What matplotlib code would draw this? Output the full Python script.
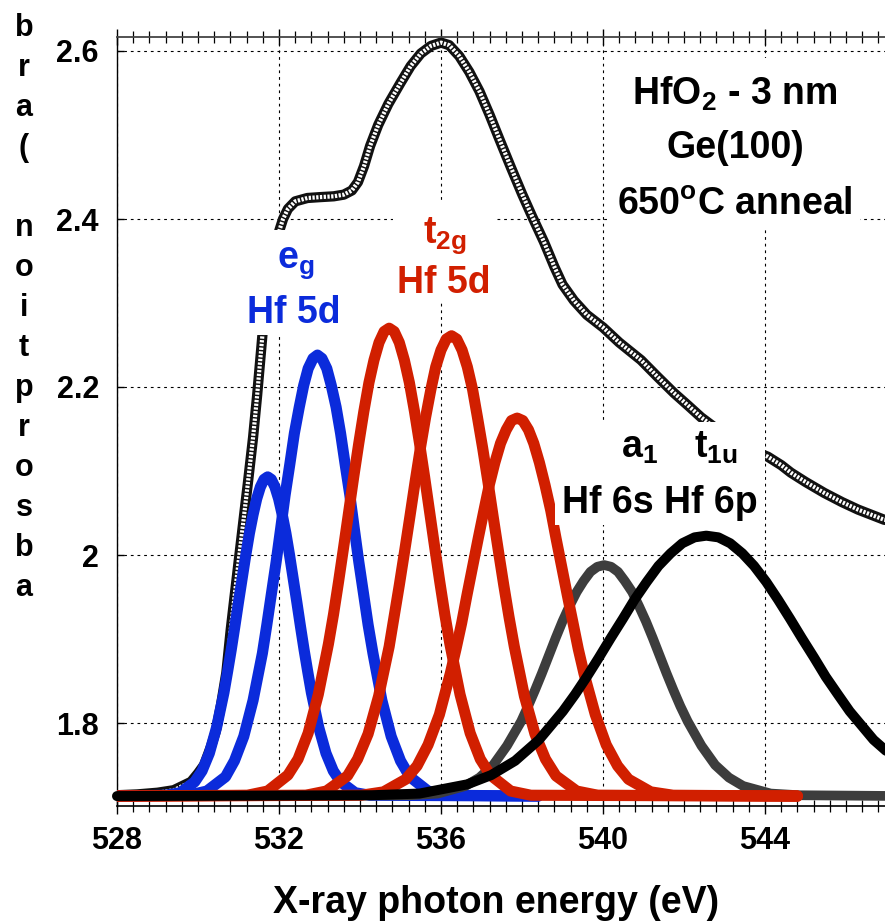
import matplotlib
matplotlib.use("Agg")
import matplotlib.pyplot as plt
from matplotlib.patches import Rectangle
from matplotlib.ticker import MultipleLocator

plt.rcParams['font.family'] = ['Liberation Sans', 'DejaVu Sans']
plt.rcParams['font.weight'] = 'bold'
plt.rcParams['mathtext.fontset'] = 'custom'
plt.rcParams['mathtext.rm'] = 'Liberation Sans:bold'
plt.rcParams['mathtext.it'] = 'Liberation Sans:bold'
plt.rcParams['mathtext.bf'] = 'Liberation Sans:bold'

# measured spectrum (open circles)
data_e = [528.0, 528.5, 529.0, 529.4, 529.83, 530.0, 530.15, 530.32, 530.44, 530.57, 530.7, 530.81,
          531.01, 531.23, 531.36, 531.46, 531.56, 531.65, 531.8, 531.9, 532.02, 532.1, 532.22, 532.4,
          532.7, 533.0, 533.35, 533.6, 533.8, 533.95, 534.1, 534.25, 534.45, 534.7, 535.0, 535.25,
          535.5, 535.75, 536.0, 536.2, 536.45, 536.7, 536.95, 537.2, 537.45, 537.73, 538.0, 538.25,
          538.54, 538.8, 539.0, 539.28, 539.6, 540.0, 540.4, 540.94, 541.35, 541.75, 542.1, 542.42,
          543.0, 543.5, 544.07, 544.4, 544.64, 545.0, 545.46, 545.9, 546.3, 546.94, 547.2]
data_v = [1.714, 1.715, 1.717, 1.720, 1.730, 1.740, 1.750, 1.772, 1.790, 1.822, 1.860, 1.912,
          1.995, 2.085, 2.140, 2.190, 2.245, 2.295, 2.345, 2.368, 2.388, 2.400, 2.412, 2.421,
          2.425, 2.426, 2.427, 2.429, 2.434, 2.444, 2.463, 2.487, 2.512, 2.537, 2.562, 2.582,
          2.597, 2.606, 2.610, 2.607, 2.594, 2.575, 2.552, 2.524, 2.494, 2.461, 2.430, 2.403,
          2.373, 2.343, 2.322, 2.303, 2.286, 2.271, 2.253, 2.232, 2.212, 2.193, 2.178, 2.164,
          2.143, 2.128, 2.117, 2.107, 2.098, 2.087, 2.074, 2.063, 2.054, 2.042, 2.040]

# fitted components (e_g Hf 5d, blue)
blue1_e = [528.0, 529.20, 529.56, 529.92, 530.10, 530.28, 530.46, 530.64, 530.73, 530.82, 530.91, 531.00, 531.09,
           531.18, 531.27, 531.36, 531.45, 531.54, 531.63, 531.72, 531.81, 531.90, 531.99, 532.08, 532.17,
           532.26, 532.35, 532.44, 532.53, 532.62, 532.71, 532.80, 532.98, 533.16, 533.34, 533.52, 533.88,
           534.24, 538.4]
blue1_v = [1.713, 1.714, 1.717, 1.730, 1.743, 1.764, 1.795, 1.836, 1.861, 1.887, 1.915, 1.944, 1.972,
           2.000, 2.026, 2.048, 2.067, 2.081, 2.090, 2.093, 2.090, 2.081, 2.067, 2.048, 2.026,
           2.000, 1.972, 1.944, 1.915, 1.887, 1.861, 1.836, 1.795, 1.764, 1.743, 1.730, 1.717,
           1.714, 1.713]

blue2_e = [528.0, 529.77, 530.22, 530.68, 530.90, 531.13, 531.36, 531.59, 531.70, 531.81, 531.93, 532.04, 532.15,
           532.27, 532.38, 532.50, 532.61, 532.72, 532.84, 532.95, 533.06, 533.18, 533.29, 533.41, 533.52,
           533.63, 533.75, 533.86, 533.97, 534.09, 534.20, 534.32, 534.54, 534.77, 535.00, 535.23, 535.68,
           536.14, 538.4]
blue2_v = [1.713, 1.714, 1.719, 1.736, 1.755, 1.784, 1.827, 1.883, 1.917, 1.953, 1.992, 2.031, 2.071,
           2.109, 2.145, 2.176, 2.202, 2.222, 2.234, 2.238, 2.234, 2.222, 2.202, 2.176, 2.145,
           2.109, 2.071, 2.031, 1.992, 1.953, 1.917, 1.883, 1.827, 1.784, 1.755, 1.736, 1.719,
           1.714, 1.713]

# t_2g Hf 5d, red
red1_e = [528.0, 531.22, 531.72, 532.22, 532.47, 532.72, 532.97, 533.22, 533.345, 533.47, 533.595, 533.72, 533.845,
          533.97, 534.095, 534.22, 534.345, 534.47, 534.595, 534.72, 534.845, 534.97, 535.095, 535.22, 535.345,
          535.47, 535.595, 535.72, 535.845, 535.97, 536.095, 536.22, 536.47, 536.72, 536.97, 537.22, 537.72,
          538.22, 544.8]
red1_v = [1.713, 1.714, 1.719, 1.738, 1.757, 1.788, 1.834, 1.894, 1.929, 1.968, 2.009, 2.051, 2.093,
          2.133, 2.171, 2.205, 2.232, 2.253, 2.266, 2.270, 2.266, 2.253, 2.232, 2.205, 2.171,
          2.133, 2.093, 2.051, 2.009, 1.968, 1.929, 1.894, 1.834, 1.788, 1.757, 1.738, 1.719,
          1.714, 1.713]

red2_e = [528.0, 532.66, 533.17, 533.69, 533.94, 534.20, 534.46, 534.72, 534.84, 534.97, 535.10, 535.23, 535.36,
          535.49, 535.62, 535.75, 535.87, 536.00, 536.13, 536.26, 536.39, 536.52, 536.65, 536.78, 536.90,
          537.03, 537.16, 537.29, 537.42, 537.55, 537.68, 537.81, 538.06, 538.32, 538.58, 538.84, 539.35,
          539.87, 544.8]
red2_v = [1.713, 1.714, 1.719, 1.737, 1.757, 1.787, 1.832, 1.891, 1.926, 1.964, 2.004, 2.045, 2.087,
          2.127, 2.164, 2.197, 2.224, 2.244, 2.257, 2.261, 2.257, 2.244, 2.224, 2.197, 2.164,
          2.127, 2.087, 2.045, 2.004, 1.964, 1.926, 1.891, 1.832, 1.787, 1.757, 1.737, 1.719,
          1.714, 1.713]

red3_e = [528.0, 534.03, 534.58, 535.13, 535.41, 535.68, 535.96, 536.23, 536.37, 536.51, 536.64, 536.78, 536.92,
          537.06, 537.19, 537.33, 537.47, 537.61, 537.74, 537.88, 538.02, 538.16, 538.29, 538.43, 538.57,
          538.71, 538.84, 538.98, 539.12, 539.26, 539.39, 539.53, 539.81, 540.08, 540.36, 540.63, 541.18,
          541.73, 544.8]
red3_v = [1.713, 1.714, 1.718, 1.733, 1.749, 1.774, 1.810, 1.859, 1.888, 1.919, 1.952, 1.986, 2.020,
          2.053, 2.083, 2.110, 2.133, 2.149, 2.160, 2.163, 2.160, 2.149, 2.133, 2.110, 2.083,
          2.053, 2.020, 1.986, 1.952, 1.919, 1.888, 1.859, 1.810, 1.774, 1.749, 1.733, 1.718,
          1.714, 1.713]

# a_1 Hf 6s, dark grey
a1_e = [528.0, 535.24, 535.92, 536.60, 536.95, 537.29, 537.63, 537.98, 538.15, 538.32, 538.49, 538.66, 538.83,
        539.00, 539.17, 539.35, 539.52, 539.69, 539.86, 540.03, 540.20, 540.37, 540.54, 540.72, 540.89,
        541.06, 541.23, 541.40, 541.57, 541.74, 541.91, 542.09, 542.43, 542.77, 543.11, 543.46, 544.14,
        544.83, 547.5]
a1_v = [1.713, 1.714, 1.716, 1.725, 1.735, 1.750, 1.773, 1.802, 1.820, 1.839, 1.859, 1.880, 1.901,
        1.921, 1.939, 1.956, 1.969, 1.980, 1.986, 1.988, 1.986, 1.980, 1.969, 1.956, 1.939,
        1.921, 1.901, 1.880, 1.859, 1.839, 1.820, 1.802, 1.773, 1.750, 1.735, 1.725, 1.716,
        1.714, 1.713]

# t_1u Hf 6p, black
t1u_e = [528.0, 534.29, 535.47, 536.65, 537.24, 537.83, 538.42, 539.01, 539.31, 539.60, 539.90, 540.19, 540.49,
         540.78, 541.08, 541.37, 541.67, 541.96, 542.26, 542.55, 542.85, 543.14, 543.44, 543.73, 544.03,
         544.32, 544.62, 544.91, 545.21, 545.50, 545.80, 546.09, 546.68, 547.27, 547.86]
t1u_v = [1.713, 1.714, 1.716, 1.727, 1.738, 1.755, 1.780, 1.814, 1.834, 1.855, 1.878, 1.901, 1.924,
         1.947, 1.968, 1.987, 2.002, 2.014, 2.021, 2.023, 2.021, 2.014, 2.002, 1.987, 1.968,
         1.947, 1.924, 1.901, 1.878, 1.855, 1.834, 1.814, 1.780, 1.755, 1.738]

x_ticks = [528, 532, 536, 540, 544]
x_tick_labels = ['528', '532', '536', '540', '544']
y_ticks = [1.8, 2.0, 2.2, 2.4, 2.6]
y_tick_labels = ['1.8', '2', '2.2', '2.4', '2.6']
ylabel_chars = ['b', 'r', 'a', '(', 'n', 'o', 'i', 't', 'p', 'r', 'o', 's', 'b', 'a']
ylabel_ypix = [28, 68, 108, 148, 228, 268, 308, 348, 388, 428, 468, 508, 548, 588]

blue = '#0b2bdb'
red = '#d11f00'
gray = '#3d3d3d'

W, H = 885, 922
fig = plt.figure(figsize=(W / 100, H / 100), dpi=100)
ax = fig.add_axes([117 / W, 116 / H, 768 / W, 769 / H])

# spectrum drawn as a dark band with light speckles to mimic dense open circles
ax.plot(data_e, data_v, color='#111111', lw=7.4, solid_capstyle='round', solid_joinstyle='round', zorder=2)
ax.plot(data_e, data_v, color='white', lw=3.0, linestyle=(0, (0.55, 0.35)),
        solid_joinstyle='round', zorder=2.1)

lkw = dict(solid_capstyle='round', solid_joinstyle='round')
ax.plot(blue1_e, blue1_v, color=blue, lw=8, zorder=3, **lkw)
ax.plot(blue2_e, blue2_v, color=blue, lw=8, zorder=3, **lkw)
ax.plot(a1_e, a1_v, color=gray, lw=7, zorder=3.5, **lkw)
ax.plot(red1_e, red1_v, color=red, lw=8, zorder=4, **lkw)
ax.plot(red2_e, red2_v, color=red, lw=8, zorder=4, **lkw)
ax.plot(red3_e, red3_v, color=red, lw=8, zorder=4, **lkw)
ax.plot(t1u_e, t1u_v, color='black', lw=7.2, zorder=5, clip_on=False, **lkw)

ax.set_xlim(528, 528 + 768 / 40.5)
ax.set_ylim(1.8 - 83 / 840, 1.8 + 686 / 840)

ax.set_xticks(x_ticks)
ax.set_xticklabels(x_tick_labels)
ax.xaxis.set_minor_locator(MultipleLocator(0.4))
ax.set_yticks(y_ticks)
ax.set_yticklabels(y_tick_labels)
ax.tick_params(axis='x', which='both', top=True, bottom=True, direction='inout')
ax.tick_params(axis='x', which='major', length=11, width=1, labelsize=22, pad=9)
ax.tick_params(axis='x', which='minor', length=9, width=0.9)
ax.tick_params(axis='y', which='major', left=True, right=False, direction='in',
               length=5, width=1, labelsize=22, pad=13)

ax.grid(True, which='major', color='black', linestyle=(0, (2.5, 3.5)), lw=0.8)
ax.set_axisbelow(True)
ax.spines['right'].set_visible(False)
ax.spines['top'].set_color('#444444')
ax.spines['top'].set_linewidth(1.3)
ax.spines['bottom'].set_linewidth(1.2)
ax.spines['left'].set_linewidth(1.0)

ax.set_xlabel('X-ray photon energy (eV)', fontsize=27, fontweight='bold', va='baseline')
ax.xaxis.set_label_coords((496 - 117) / 768, (806 - 913) / 769)

# y label: characters stacked
for ch, yp in zip(ylabel_chars, ylabel_ypix):
    fig.text(24 / W, 1 - yp / H, ch, ha='center', va='center', fontsize=22, fontweight='bold')


def px2e(x):
    return 528 + (x - 117) / 40.5


def px2v(y):
    return 1.8 + (723 - y) / 840


def white_box(x0, x1, y0, y1):
    ax.add_patch(Rectangle((px2e(x0), px2v(y1)), px2e(x1) - px2e(x0), px2v(y0) - px2v(y1),
                           facecolor='white', edgecolor='none', zorder=6))


white_box(608, 860, 58, 227)
white_box(240, 350, 230, 335)
white_box(393, 497, 203, 300)
white_box(555, 765, 422, 525)

tkw = dict(ha='center', va='baseline', fontsize=27, fontweight='bold', zorder=7)
ax.text(px2e(735), px2v(105), 'HfO$_2$ - 3 nm', **tkw)
ax.text(px2e(735), px2v(158), 'Ge(100)', **tkw)
ax.text(px2e(735), px2v(215), '650$^\\mathrm{o}$C anneal', **tkw)

ax.text(px2e(296), px2v(268), '$\\mathrm{e_g}$', color=blue, **tkw)
ax.text(px2e(294), px2v(323), 'Hf 5d', color=blue, **tkw)
ax.text(px2e(445), px2v(243), '$\\mathrm{t_{2g}}$', color=red, **tkw)
ax.text(px2e(444), px2v(293), 'Hf 5d', color=red, **tkw)
ax.text(px2e(640), px2v(458), '$\\mathrm{a_1}$', **tkw)
ax.text(px2e(716), px2v(458), '$\\mathrm{t_{1u}}$', **tkw)
ax.text(px2e(660), px2v(513), 'Hf 6s Hf 6p', **tkw)

fig.savefig('out.png', dpi=100)
